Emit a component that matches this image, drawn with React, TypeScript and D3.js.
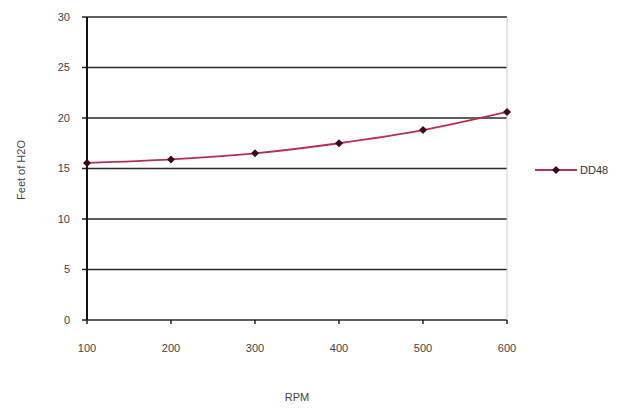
import React from "react";
import * as d3 from "d3";

const rpm = [100, 200, 300, 400, 500, 600];
const feetH2O = [15.55, 15.9, 16.5, 17.5, 18.8, 20.6];
const yTicks = [0, 5, 10, 15, 20, 25, 30];
const xTicks = [100, 200, 300, 400, 500, 600];
const seriesName = "DD48";

export default function App() {
  const W = 626, H = 409;
  const x = d3.scaleLinear().domain([100, 600]).range([87, 507]);
  const y = d3.scaleLinear().domain([0, 30]).range([320, 17]);
  const line = d3.line<number>().x((_, i) => x(rpm[i])).y((d) => y(d)).curve(d3.curveMonotoneX);
  const diamond = (cx: number, cy: number, r = 4) =>
    `M${cx},${cy - r}L${cx + r},${cy}L${cx},${cy + r}L${cx - r},${cy}Z`;
  const font = "Liberation Sans, Arial, sans-serif";
  return (
    <svg width={W} height={H} style={{ position: "absolute", left: 0, top: 0, background: "#fff" }}>
      {yTicks.map((t) => (
        <g key={t}>
          <line x1={x(100)} x2={x(600)} y1={y(t)} y2={y(t)} stroke="#2a2a2a" strokeWidth={1.5} />
          <line x1={x(100) - 5} x2={x(100)} y1={y(t)} y2={y(t)} stroke="#222" strokeWidth={1.5} />
          <text x={70} y={y(t)} dy="0.35em" textAnchor="end" fontFamily={font} fontSize={11} fill="#444">
            {t}
          </text>
        </g>
      ))}
      <line x1={x(600)} x2={x(600)} y1={y(30)} y2={y(0)} stroke="#ccc" strokeWidth={1} />
      <line x1={x(100)} x2={x(100)} y1={y(30)} y2={y(0)} stroke="#111" strokeWidth={2} />
      {xTicks.map((t) => (
        <g key={t}>
          <line x1={x(t)} x2={x(t)} y1={y(0)} y2={y(0) + 4} stroke="#222" strokeWidth={1.5} />
          <text x={x(t)} y={352} textAnchor="middle" fontFamily={font} fontSize={11} fill="#444">
            {t}
          </text>
        </g>
      ))}
      <path d={line(feetH2O) || ""} fill="none" stroke="#b8304f" strokeWidth={1.8} />
      {feetH2O.map((v, i) => (
        <path key={i} d={diamond(x(rpm[i]), y(v))} fill="#3a0a18" />
      ))}
      <text
        transform={`translate(25,170) rotate(-90)`}
        textAnchor="middle"
        fontFamily={font}
        fontSize={11}
        fill="#444"
      >
        Feet of H2O
      </text>
      <text x={297} y={401} textAnchor="middle" fontFamily={font} fontSize={11} fill="#444">
        RPM
      </text>
      <line x1={535} x2={577} y1={170} y2={170} stroke="#b8304f" strokeWidth={1.8} />
      <path d={diamond(556, 170)} fill="#3a0a18" />
      <text x={580} y={170} dy="0.35em" fontFamily={font} fontSize={11} fill="#333">
        {seriesName}
      </text>
    </svg>
  );
}
